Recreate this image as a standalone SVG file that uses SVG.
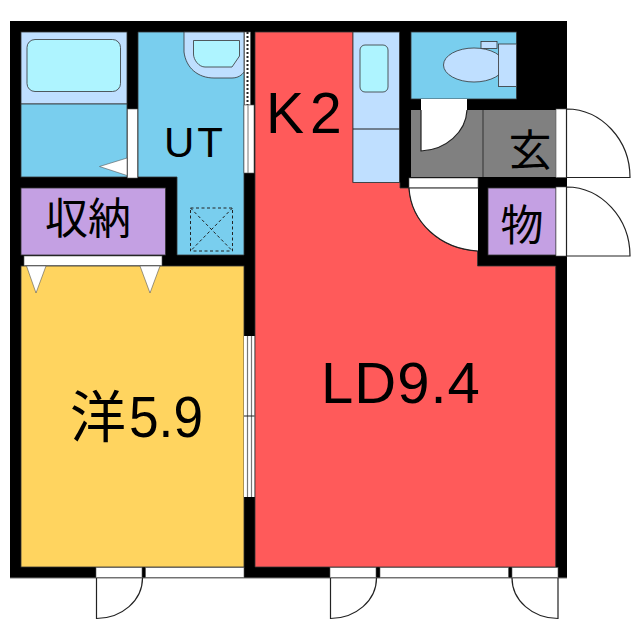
<svg xmlns="http://www.w3.org/2000/svg" width="640" height="640" viewBox="0 0 640 640">
<style>
.f{stroke:#333;stroke-width:.8}
.l{stroke:#222;stroke-width:1.2;fill:none}
.w{fill:#fff;stroke:#555;stroke-width:.6}
.t{font-family:"Liberation Sans","Noto Sans CJK JP",sans-serif;fill:#000}
.j{font-family:"Noto Sans CJK JP","Liberation Sans",sans-serif;fill:#000}
</style>
<rect width="640" height="640" fill="#fff"/>
<g id="walls"><rect x="10" y="21" width="557" height="557" fill="#000"/><path d="M10 578H567" stroke="#777" stroke-width="1"/></g>
<g id="bath">
<rect x="21" y="32" width="106" height="72" fill="#bfdfff" class="f"/>
<rect x="21" y="104" width="106" height="73" fill="#79ceee" class="f"/>
<rect x="27" y="39.500" width="93.500" height="52" rx="8" fill="#aef4ff" class="f"/>
</g>
<g id="ut">
<path d="M138 32H244V255H177V177H138Z" fill="#79ceee" class="f"/>
<path d="M184 32V52C186 68 198 78 214 78H232C238 78 242 75 244 72V32Z" fill="#bfdfff" class="f"/>
<path d="M193.500 40.500H239.500V56L232 67H205C199 67 193.500 60 193.500 54Z" fill="#aef4ff" class="f"/>
<rect x="190.500" y="208" width="42" height="43" fill="none" stroke="#222" stroke-width="1" stroke-dasharray="3 2.500"/>
<path d="M190.500 208L232.500 251M232.500 208L190.500 251" fill="none" stroke="#222" stroke-width="1" stroke-dasharray="3 2.500"/>
<text x="164" y="156.500" font-size="42" letter-spacing="3" class="t">UT</text>
</g>
<g id="storage">
<rect x="21" y="188" width="144.500" height="67" fill="#c4a0e3" class="f"/>
<text x="88" y="234" text-anchor="middle" font-size="43" class="j">収納</text>
</g>
<g id="western">
<rect x="21" y="266" width="223" height="301" fill="#ffd45f" class="f"/>
<text x="70" y="437" font-size="56" class="j">洋</text>
<text x="129" y="436.500" font-size="57" textLength="74" lengthAdjust="spacingAndGlyphs" class="t">5.9</text>
</g>
<g id="ldk">
<path d="M255 32H353V182.500H400V188H409C411 222 440 249 477.500 251V266H555.700V567H255Z" fill="#ff5a5a" class="f"/>
<rect x="353" y="32" width="46.500" height="150.500" fill="#bfdfff" class="f"/>
<path d="M353 129H399.500" class="l"/>
<rect x="360" y="45" width="28" height="47" rx="5" fill="#aef4ff" class="f"/>
<text x="266" y="133" font-size="57" letter-spacing="6" class="t">K2</text>
<text x="321" y="403" font-size="58" letter-spacing="1" class="t">LD9.4</text>
</g>
<g id="wc">
<rect x="411" y="32" width="105.500" height="67" fill="#79ceee" class="f"/>
<rect x="481" y="41.500" width="16" height="7" fill="#bfdfff" class="f"/>
<ellipse cx="474" cy="65" rx="30.500" ry="17" fill="#bfdfff" class="f"/>
<rect x="498.500" y="44" width="18" height="42.500" fill="#bfdfff" class="f"/>
</g>
<g id="entry">
<rect x="411" y="110" width="145" height="67" fill="#808080"/>
<path d="M483 110V177" stroke="#333" stroke-width="1"/>
<path d="M421 99H467V110C466 132 446 150 421 151Z" fill="#fff"/>
<path d="M421 110V151C446 150 466 132 467 110" class="l"/>
<text x="530" y="166" text-anchor="middle" font-size="43" class="j">玄</text>
</g>
<g id="closet2">
<rect x="488" y="188" width="68" height="67" fill="#c4a0e3" class="f"/>
<text x="522" y="241" text-anchor="middle" font-size="43" class="j">物</text>
</g>
<g id="fittings">
<rect x="127.500" y="109" width="10" height="69" class="w"/>
<path d="M127 158L99.500 166.500L127 175.500Z" class="w"/>
<rect x="24" y="256" width="138" height="9.500" class="w"/>
<path d="M26.500 266H46L36 293Z" class="w"/>
<path d="M140 266H160L150 293Z" class="w"/>
<rect x="244.500" y="32" width="6" height="73" fill="#fff" stroke="#555" stroke-width=".6"/>
<path d="M247.500 32V105" stroke="#222" stroke-width="2" stroke-dasharray="2 2"/>
<rect x="244" y="105" width="10" height="68" class="w"/>
<path d="M248 105V173" stroke="#777" stroke-width="1"/>
<rect x="244" y="336" width="10.500" height="161" fill="#fff"/>
<path d="M247.500 336V497M251.500 336V497" stroke="#777" stroke-width="1.200"/>
<path d="M244 416H254.500" stroke="#222" stroke-width="1"/>
<rect x="409" y="178" width="69" height="10" class="w"/>
<path d="M409 188H478V251C440 249 411 222 409 188Z" fill="#fff"/>
<path d="M409 188H478M409 188C411 222 440 249 478 251" class="l"/>
<rect x="556" y="109" width="10.500" height="68.500" class="w"/>
<rect x="556" y="187" width="10.500" height="69" class="w"/>
<path d="M566.500 109V177.500H630A64 68.500 0 0 0 566.500 109Z" class="l"/>
<path d="M566.500 187V256H630A64 69 0 0 0 566.500 187Z" class="l"/>
<rect x="96" y="567.500" width="46" height="10" class="w"/>
<rect x="145.500" y="567.500" width="98.500" height="10" class="w"/>
<path d="M96.500 578V618.500A46 40.500 0 0 0 142.500 578" class="l"/>
<rect x="330" y="567.500" width="46" height="10" class="w"/>
<rect x="380" y="567.500" width="128.500" height="10" class="w"/>
<rect x="512" y="567.500" width="46" height="10" class="w"/>
<path d="M330.500 578V618.500A46 40.500 0 0 0 376.500 578" class="l"/>
<path d="M558 578V618.500A46 40.500 0 0 1 512 578" class="l"/>
</g>
</svg>
